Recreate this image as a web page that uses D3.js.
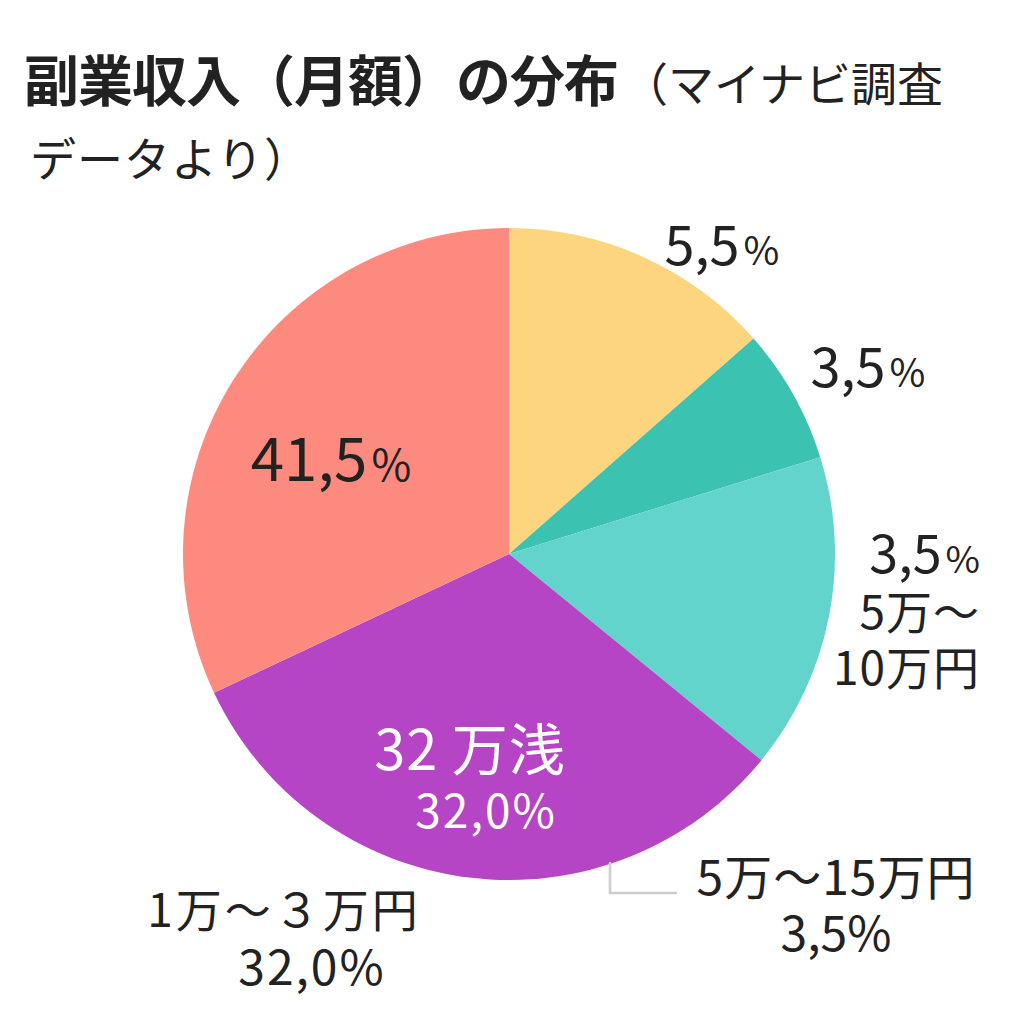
<!DOCTYPE html>
<html><head><meta charset="utf-8">
<script src="https://cdn.jsdelivr.net/npm/d3@7"></script>
<style>
html,body{margin:0;padding:0;background:#fff;}
svg{display:block;font-family:"Noto Sans CJK JP","Noto Sans",sans-serif;}
</style></head>
<body>
<svg id="c" width="1024" height="1024"></svg>
<script>
// ---- data ----
const categories = ["yellow", "teal", "lightTeal", "purple", "salmon"];
const values = [13.5, 6.7, 15.7, 32.1, 32.0];
const colors = ["#FDD57E", "#3CC2B0", "#62D4CB", "#B545C4", "#FC8A7E"];
const titleBold = "副業収入（月額）の分布";
const titleRest = "（マイナビ調査";
const titleLine2 = "データより）";
// label lines: [number part, percent part]
const labelYellow = [["5,5", "%"]];
const labelTeal = [["3,5", "%"]];
const labelLightTeal = [["3,5", "%"], ["5万～", ""], ["10万円", ""]];
const labelSalmon = [["41,5", "%"]];
const labelPurpleIn = [["32 万浅", ""], ["32,0%", ""]];
const labelPurpleOut = [["1万～３万円", ""], ["32,0%", ""]];
const labelExtra = [["5万～15万円", ""], ["3,5%", ""]];

// ---- layout ----
const svg = d3.select("#c");
const cx = 509, cy = 554, R = 326;

svg.append("text").attr("x", 24).attr("y", 101)
  .attr("font-size", 55).attr("font-weight", 700).attr("fill", "#222")
  .attr("letter-spacing", -1)
  .text(titleBold)
  .append("tspan").attr("font-weight", 400).attr("font-size", 46).attr("letter-spacing", 0).attr("dx", 4).text(titleRest);
svg.append("text").attr("x", 30).attr("y", 176)
  .attr("font-size", 46).attr("fill", "#222").attr("letter-spacing", 1).text(titleLine2);

const pie = d3.pie().sort(null).value(d => d)(values);
const arc = d3.arc().innerRadius(0).outerRadius(R);
const g = svg.append("g").attr("transform", `translate(${cx},${cy})`);
g.selectAll("path").data(pie).join("path")
  .attr("d", arc).attr("fill", (d, i) => colors[i]);

// leader line for extra label
const lead = d3.line();
svg.append("path")
  .attr("d", lead([[610, 862], [610, 893], [677, 893]]))
  .attr("fill", "none").attr("stroke", "#cccccc").attr("stroke-width", 2.5);

function label(lines, x, y, opts) {
  const t = svg.append("text").attr("x", x).attr("y", y)
    .attr("text-anchor", opts.anchor || "middle")
    .attr("fill", opts.color || "#222");
  lines.forEach((ln, i) => {
    const sz = (opts.sizes && opts.sizes[i]) || opts.size;
    const ls = (opts.ls && opts.ls[i]) || 0;
    const ox = (opts.ox && opts.ox[i]) || 0;
    t.append("tspan").attr("x", x + ox).attr("y", y + i * opts.lh)
      .attr("font-size", sz).attr("letter-spacing", ls).text(ln[0]);
    if (ln[1]) t.append("tspan").attr("font-size", sz * 0.72).attr("dx", 4).text(ln[1]);
  });
}
label(labelYellow, 722, 265, {size: 54});
label(labelTeal, 868, 387, {size: 54});
label(labelLightTeal, 980, 573, {size: 50, lh: 56, anchor: "end", sizes: [52, 46, 46], ls: [0, 1, 1]});
label(labelSalmon, 331, 481, {size: 60});
label(labelPurpleIn, 470, 770, {size: 56, lh: 58, color: "#fff", sizes: [56, 46], ls: [1, 2], ox: [0, 16]});
label(labelPurpleOut, 284, 927, {size: 46, lh: 58, sizes: [46, 48], ls: [3, 2], ox: [0, 28]});
label(labelExtra, 836, 895, {size: 48, lh: 56, ls: [1, 0]});
</script>
</body></html>
